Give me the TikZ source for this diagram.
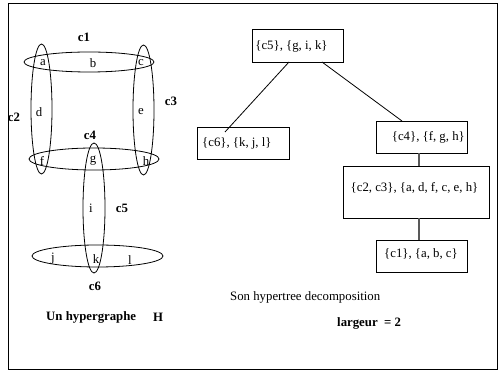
\documentclass[tikz,border=0pt]{standalone}
\usepackage{fontspec}
\setmainfont{Liberation Serif}
\usetikzlibrary{shapes.geometric}
\begin{document}
\begin{tikzpicture}[x=1pt,y=-1pt,
  hedge/.style={draw,ellipse,line width=0.8pt,inner sep=0pt},
  lbl/.style={font=\fontsize{12.8}{15}\selectfont,inner sep=0pt},
  blbl/.style={font=\fontsize{12.8}{15}\selectfont\bfseries,inner sep=0pt},
  tbox/.style={draw,line width=0.8pt,inner sep=0pt},
  tline/.style={line width=0.8pt},
  gline/.style={line width=1.3pt,draw=black!65}]
\useasboundingbox (0,0) rectangle (499,371);
\node[draw,line width=0.8pt,inner sep=0pt,minimum width=489pt,minimum height=366pt,anchor=north west] (frame) at (8,3) {};
% hyperedges
\node[hedge,minimum width=130pt,minimum height=20pt] (c1e) at (89,62) {};
\node[hedge,minimum width=21pt,minimum height=130pt] (c2e) at (41.5,109) {};
\node[hedge,minimum width=21pt,minimum height=130pt] (c3e) at (143.5,110) {};
\node[hedge,minimum width=130pt,minimum height=22pt] (c4e) at (94,159) {};
\node[hedge,minimum width=22pt,minimum height=130pt] (c5e) at (94,208) {};
\node[hedge,minimum width=131pt,minimum height=22pt] (c6e) at (97.5,256) {};
% vertices
\node[lbl] (va) at (43,63) {a};
\node[lbl] (vb) at (93,63) {b};
\node[lbl] (vc) at (141,63) {c};
\node[lbl] (vd) at (39,112) {d};
\node[lbl] (ve) at (141,112) {e};
\node[lbl] (vf) at (42,161) {f};
\node[lbl] (vg) at (93,161) {g};
\node[lbl] (vh) at (146,161) {h};
\node[lbl] (vi) at (91,208) {i};
\node[lbl] (vj) at (53,259) {j};
\node[lbl] (vk) at (96,259) {k};
\node[lbl] (vl) at (130,260) {l};
% edge names
\node[blbl] (n1) at (84,37) {c1};
\node[blbl] (n2) at (14,117) {c2};
\node[blbl] (n3) at (171,101) {c3};
\node[blbl] (n4) at (90,135) {c4};
\node[blbl] (n5) at (122,208) {c5};
\node[blbl] (n6) at (95,286) {c6};
\node[blbl,anchor=west] (title1) at (46,317) {Un hypergraphe};
\node[blbl] (titleH) at (158,317) {H};
% tree
\node[tbox,minimum width=91pt,minimum height=33pt] (b1) at (297.5,45.5) {};
\node[lbl] (t1) at (291.5,46) {\{c5\}, \{g, i, k\}};
\node[tbox,minimum width=92pt,minimum height=32pt] (b2) at (243,143) {};
\node[lbl,anchor=west] (t2) at (202,143) {\{c6\}, \{k, j, l\}};
\node[tbox,minimum width=91pt,minimum height=32pt] (b3) at (421.5,137) {};
\node[lbl,anchor=east] (t3) at (465,137) {\{c4\}, \{f, g, h\}};
\node[tbox,minimum width=146pt,minimum height=52pt] (b4) at (416,192) {};
\node[lbl] (t4) at (414.5,188) {\{c2, c3\}, \{a, d, f, c, e, h\}};
\node[tbox,minimum width=91pt,minimum height=32pt] (b5) at (421.5,256) {};
\node[lbl] (t5) at (421,254) {\{c1\}, \{a, b, c\}};
\coordinate (s12) at (289,62);
\coordinate (e12) at (225,132);
\coordinate (s13) at (322,62);
\coordinate (e13) at (402,121);
\draw[tline] (s12) -- (e12);
\draw[tline] (s13) -- (e13);
\draw[gline] (b3.south -| 419,0) -- (b4.north -| 419,0);
\draw[gline] (b4.south -| 419,0) -- (b5.north -| 419,0);
\node[lbl,anchor=west] (cap1) at (230,297) {Son hypertree decomposition};
\node[blbl,anchor=west] (cap2) at (337,323) {largeur\ \ = 2};
\end{tikzpicture}
\end{document}
